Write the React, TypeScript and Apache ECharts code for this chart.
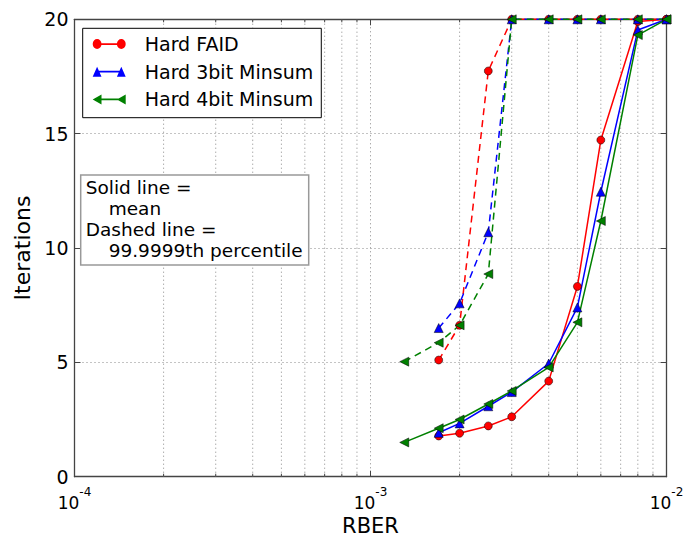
import React, { useEffect, useRef } from "react";
import * as echarts from "echarts";

// ---- data ----
const RBER = [1.7e-3, 2e-3, 2.5e-3, 3e-3, 4e-3, 5e-3, 6e-3, 8e-3, 1e-2];
const RBER_4BIT = [1.3e-3, 1.7e-3, 2e-3, 2.5e-3, 3e-3, 4e-3, 5e-3, 6e-3, 8e-3, 1e-2];

const FAID_MEAN = [1.78, 1.9, 2.22, 2.62, 4.18, 8.32, 14.72, 19.9, 20];
const MS3_MEAN = [1.92, 2.33, 3.08, 3.7, 4.95, 7.4, 12.46, 19.53, 20];
const MS4_MEAN = [1.5, 2.12, 2.5, 3.18, 3.75, 4.78, 6.75, 11.18, 19.31, 20];

const FAID_TAIL = [5.1, 6.62, 17.74, 20, 20, 20, 20, 20, 20];
const MS3_TAIL = [6.5, 7.58, 10.69, 20, 20, 20, 20, 20, 20];
const MS4_TAIL = [5.03, 5.86, 6.62, 8.86, 20, 20, 20, 20, 20, 20];

const MINOR_X = [2e-4, 3e-4, 4e-4, 5e-4, 6e-4, 7e-4, 8e-4, 9e-4, 2e-3, 3e-3, 4e-3, 5e-3, 6e-3, 7e-3, 8e-3, 9e-3];

const NAMES = ["Hard FAID", "Hard 3bit Minsum", "Hard 4bit Minsum"];
const COLORS = ["#ff0000", "#0000ff", "#008000"];

const FONT = "DejaVu Sans";

const LINE_RECT = "M4,4.3H26V5.7H4Z";
const ICON_CIRCLE =
  "path://" + LINE_RECT + " M0,5A4,4 0 1 1 8,5A4,4 0 1 1 0,5Z M22,5A4,4 0 1 1 30,5A4,4 0 1 1 22,5Z";
const ICON_UP = "path://" + LINE_RECT + " M0,9L4,1L8,9Z M22,9L26,1L30,9Z";
const ICON_LEFT = "path://" + LINE_RECT + " M0,5L8,1L8,9Z M22,5L30,1L30,9Z";

function pairs(xs: number[], ys: number[]) {
  return xs.map((x, i) => [x, ys[i]]);
}

function lineSeries(
  name: string,
  color: string,
  symbol: string,
  rotate: number,
  size: number,
  xs: number[],
  ys: number[],
  dashed: boolean
) {
  return {
    type: "line",
    name,
    data: pairs(xs, ys),
    symbol,
    symbolSize: size,
    symbolRotate: rotate,
    showAllSymbol: true,
    clip: false,
    z: 3,
    lineStyle: { color, width: 1.5, type: dashed ? [7, 5] : "solid" },
    itemStyle: { color, borderColor: "#000", borderWidth: 0.5 },
  };
}

const AXIS_COLOR = "#444";
const GRID_COLOR = "#888";

export default function App() {
  const ref = useRef<HTMLDivElement>(null);

  useEffect(() => {
    if (!ref.current) return;
    const chart = echarts.init(ref.current, undefined, { renderer: "svg" });

    const option: any = {
      animation: false,
      backgroundColor: "#fff",
      textStyle: { fontFamily: FONT },
      grid: {
        left: 74.5,
        right: 20.5,
        top: 19.3,
        bottom: 59.3,
        containLabel: false,
        outerBoundsMode: "none",
      },
      title: {
        left: 80.7,
        top: 174,
        padding: [3, 6, 5, 5],
        borderColor: "#999",
        borderWidth: 1.5,
        backgroundColor: "#fff",
        text: "{a|Solid line =}\n{b|mean}\n{a|Dashed line =}\n{b|99.9999th percentile}",
        textStyle: {
          fontWeight: "normal",
          fontFamily: FONT,
          rich: {
            a: { fontSize: 18.5, lineHeight: 21, fontFamily: FONT, color: "#000" },
            b: { fontSize: 18.5, lineHeight: 21, fontFamily: FONT, color: "#000", padding: [0, 0, 0, 23] },
          },
        },
      },
      legend: {
        orient: "vertical",
        left: 82.7,
        top: 28.3,
        padding: [5.7, 8, 8.3, 10],
        itemGap: 7.7,
        itemWidth: 33,
        itemHeight: 10,
        symbolKeepAspect: false,
        borderColor: "#000",
        borderWidth: 1,
        backgroundColor: "#fff",
        itemStyle: { borderWidth: 0 },
        textStyle: { fontSize: 19, fontFamily: FONT, color: "#000", lineHeight: 20, padding: [0, 0, 0, 14] },
        data: [
          { name: NAMES[0], icon: ICON_CIRCLE },
          { name: NAMES[1], icon: ICON_UP },
          { name: NAMES[2], icon: ICON_LEFT },
        ],
      },
      xAxis: [
        {
          type: "log",
          logBase: 10,
          min: 1e-4,
          max: 1e-2,
          position: "bottom",
          axisLine: { show: true, onZero: false, lineStyle: { color: AXIS_COLOR, width: 1.3 } },
          axisTick: { show: true, inside: true, length: 6, lineStyle: { color: AXIS_COLOR } },
          splitLine: { show: true, lineStyle: { color: GRID_COLOR, type: [1, 3], width: 1 } },
          minorTick: { show: false },
          axisLabel: {
            margin: 14.6,
            color: "#000",
            formatter: (v: number) => `{b|10}{s|${Math.round(Math.log10(v))}}`,
            rich: {
              b: { fontSize: 17, fontFamily: FONT, color: "#000", lineHeight: 20, verticalAlign: "bottom" },
              s: { fontSize: 12, fontFamily: FONT, color: "#000", lineHeight: 10, verticalAlign: "bottom", padding: [2, 0, 13, 0] },
            },
          },
          name: "RBER",
          nameLocation: "middle",
          nameGap: 40,
          nameMoveOverlap: false,
          nameTextStyle: { fontSize: 21, fontFamily: FONT, color: "#000", lineHeight: 19 },
        },
        {
          type: "log",
          logBase: 10,
          min: 1e-4,
          max: 1e-2,
          position: "top",
          axisLine: { show: true, onZero: false, lineStyle: { color: AXIS_COLOR, width: 1.3 } },
          axisTick: { show: true, inside: true, length: 6, lineStyle: { color: AXIS_COLOR } },
          axisLabel: { show: false },
          splitLine: { show: false },
        },
      ],
      yAxis: [
        {
          type: "value",
          min: 0,
          max: 20,
          interval: 5,
          position: "left",
          axisLine: { show: true, onZero: false, lineStyle: { color: AXIS_COLOR, width: 1.3 } },
          axisTick: { show: true, inside: true, length: 6, lineStyle: { color: AXIS_COLOR } },
          splitLine: { show: true, lineStyle: { color: GRID_COLOR, type: [1, 3], width: 1 } },
          axisLabel: { fontSize: 19, fontFamily: FONT, color: "#000", margin: 6, lineHeight: 14 },
          name: "Iterations",
          nameLocation: "middle",
          nameGap: 39,
          nameTextStyle: { fontSize: 22, fontFamily: FONT, color: "#000" },
        },
        {
          type: "value",
          min: 0,
          max: 20,
          interval: 5,
          position: "right",
          axisLine: { show: true, onZero: false, lineStyle: { color: AXIS_COLOR, width: 1.3 } },
          axisTick: { show: true, inside: true, length: 6, lineStyle: { color: AXIS_COLOR } },
          axisLabel: { show: false },
          splitLine: { show: false },
        },
      ],
      series: [
        {
          type: "custom",
          silent: true,
          z: 1,
          xAxisIndex: 0,
          yAxisIndex: 0,
          data: MINOR_X.map((v) => [v, 0]),
          encode: { x: 0, y: 1 },
          renderItem: (_p: any, api: any) => {
            const v = api.value(0);
            const b = api.coord([v, 0]);
            const t = api.coord([v, 20]);
            return {
              type: "group",
              children: [
                {
                  type: "line",
                  shape: { x1: b[0], y1: b[1], x2: t[0], y2: t[1] },
                  style: { stroke: GRID_COLOR, lineWidth: 1, lineDash: [1, 3] },
                },
                {
                  type: "line",
                  shape: { x1: b[0], y1: b[1], x2: b[0], y2: b[1] - 3 },
                  style: { stroke: AXIS_COLOR, lineWidth: 1 },
                },
                {
                  type: "line",
                  shape: { x1: t[0], y1: t[1], x2: t[0], y2: t[1] + 3 },
                  style: { stroke: AXIS_COLOR, lineWidth: 1 },
                },
              ],
            };
          },
        },
        lineSeries(NAMES[0], COLORS[0], "circle", 0, 8, RBER, FAID_MEAN, false),
        lineSeries(NAMES[1], COLORS[1], "triangle", 0, 9, RBER, MS3_MEAN, false),
        lineSeries(NAMES[2], COLORS[2], "triangle", 90, 9, RBER_4BIT, MS4_MEAN, false),
        lineSeries(NAMES[0], COLORS[0], "circle", 0, 8, RBER, FAID_TAIL, true),
        lineSeries(NAMES[1], COLORS[1], "triangle", 0, 9, RBER, MS3_TAIL, true),
        lineSeries(NAMES[2], COLORS[2], "triangle", 90, 9, RBER_4BIT, MS4_TAIL, true),
      ],
    };

    chart.setOption(option);
    return () => chart.dispose();
  }, []);

  return (
    <div
      ref={ref}
      style={{ position: "absolute", left: 0, top: 0, width: 687, height: 536 }}
    />
  );
}
